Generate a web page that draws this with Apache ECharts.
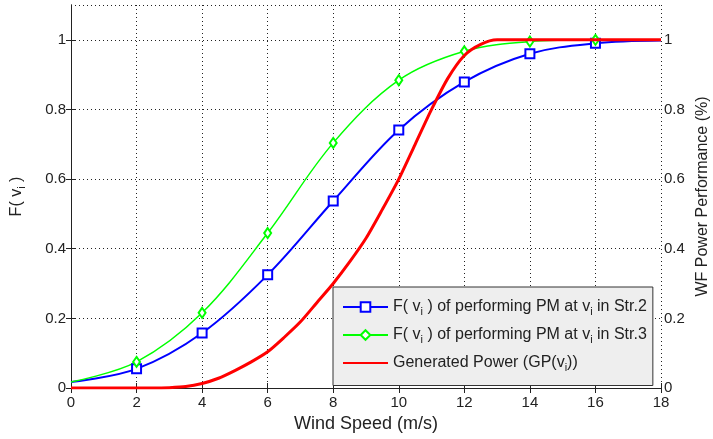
<!DOCTYPE html>
<html>
<head>
<meta charset="utf-8">
<script src="https://cdn.jsdelivr.net/npm/echarts@6/dist/echarts.min.js"></script>
<style>
  html, body { margin: 0; padding: 0; background: #fff; }
  #chart { width: 713px; height: 439px; }
</style>
</head>
<body>
<div id="chart"></div>
<script>
// wind speed (m/s) at which F(v_i) was sampled
const windSpeed = [0, 2, 4, 6, 8, 10, 12, 14, 16, 18];
const fStr2     = [0.017, 0.055, 0.158, 0.325, 0.537, 0.741, 0.879, 0.960, 0.990, 0.998];
const fStr3     = [0.017, 0.075, 0.216, 0.445, 0.704, 0.884, 0.967, 0.995, 1.000, 1.000];

// generated power curve
const gpWind  = [0, 2, 2.5, 3, 3.5, 4, 4.5, 5, 5.5, 6, 6.5, 7, 7.5, 8, 8.5, 9, 9.5, 10,
                 10.5, 11, 11.5, 12, 12.5, 13, 14, 16, 18];
const gpValue = [0, 0, 0, 0.001, 0.004, 0.013, 0.028, 0.05, 0.075, 0.104, 0.145, 0.19, 0.245, 0.30,
                 0.362, 0.43, 0.513, 0.60, 0.70, 0.80, 0.89, 0.955, 0.987, 1, 1, 1, 1];

const markedAt = [2, 4, 6, 8, 10, 12, 14, 16];

const FONT = 'Liberation Sans, Arial, sans-serif';
const chart = echarts.init(document.getElementById('chart'));

function withMarkers(xs, ys) {
    return xs.map((x, i) => markedAt.includes(x)
        ? [x, ys[i]]
        : { value: [x, ys[i]], symbol: 'none' });
}

const legendText = {
    s2: '{a|F( v}{s|i}{a| ) of performing PM at v}{s|i}{a| in Str.2}',
    s3: '{a|F( v}{s|i}{a| ) of performing PM at v}{s|i}{a| in Str.3}',
    gp: '{a|Generated Power (GP(v}{s|i}{a|))}'
};

function richSub(size) {
    return {
        a: { fontSize: size, fontFamily: FONT, color: '#222' },
        s: { fontSize: Math.round(size * 0.7), fontFamily: FONT, color: '#222', padding: [Math.round(size * 0.6), 0, 0, 0] }
    };
}

const dotted = { color: '#222', type: [1, 3], width: 1 };
const axisBlack = { lineStyle: { color: '#222', width: 1 } };
const tickIn = { inside: true, length: 5, lineStyle: { color: '#222' } };

chart.setOption({
    animation: false,
    backgroundColor: '#fff',
    textStyle: { fontFamily: FONT },
    grid: { left: 71, right: 52, top: 5, bottom: 51, outerBoundsMode: 'none' },
    legend: {
        left: 333, top: 287,
        orient: 'vertical',
        backgroundColor: '#eeeeee',
        borderColor: '#333',
        borderWidth: 1,
        padding: [12, 6, 12, 9],
        itemWidth: 45, itemHeight: 12, itemGap: 9.5,
        data: ['s2', 's3', { name: 'gp', itemStyle: { opacity: 0 } }],
        formatter: name => legendText[name],
        textStyle: { rich: richSub(16) }
    },
    xAxis: [{
        type: 'value', min: 0, max: 18, interval: 2,
        name: 'Wind Speed (m/s)', nameLocation: 'middle', nameGap: 22,
        nameTextStyle: { fontSize: 18, color: '#222' },
        axisLine: axisBlack,
        axisTick: tickIn,
        axisLabel: { fontSize: 15, color: '#222', margin: 7 },
        splitLine: { show: true, lineStyle: dotted }
    }, {
        type: 'value', min: 0, max: 18, interval: 2, position: 'top',
        axisLine: axisBlack,
        axisTick: tickIn,
        axisLabel: { show: false },
        splitLine: { show: false }
    }],
    yAxis: [{
        type: 'value', min: 0, max: 1.1, interval: 0.2,
        name: '{a|F( v}{s|i}{a| )}', nameLocation: 'middle', nameGap: 44, nameRotate: 90,
        nameTextStyle: { rich: richSub(16) },
        axisLine: axisBlack,
        axisTick: tickIn,
        axisLabel: { fontSize: 15, color: '#222', margin: 5, showMaxLabel: false },
        splitLine: { show: true, lineStyle: dotted }
    }, {
        type: 'value', min: 0, max: 1.1, interval: 0.2, position: 'right',
        name: 'WF Power Performance (%)', nameLocation: 'middle', nameGap: 34, nameRotate: 90,
        nameMoveOverlap: false,
        nameTextStyle: { fontSize: 16, color: '#222' },
        axisLine: axisBlack,
        axisTick: tickIn,
        axisLabel: { fontSize: 15, color: '#222', margin: 3, showMaxLabel: false },
        splitLine: { show: false }
    }],
    series: [{
        name: 'gp', type: 'line', yAxisIndex: 1,
        data: gpWind.map((x, i) => [x, gpValue[i]]),
        smooth: 0.25, symbol: 'none',
        lineStyle: { color: '#ff0000', width: 3 },
        itemStyle: { color: '#ff0000' },
        z: 3
    }, {
        name: 's2', type: 'line',
        data: withMarkers(windSpeed, fStr2),
        smooth: 0.35, symbol: 'emptyRect', symbolSize: 9,
        lineStyle: { color: '#0000ff', width: 2 },
        itemStyle: { color: '#0000ff', borderWidth: 2 },
        z: 2
    }, {
        name: 's3', type: 'line',
        data: withMarkers(windSpeed, fStr3),
        smooth: 0.35, symbol: 'emptyDiamond', symbolSize: [7, 10],
        lineStyle: { color: '#00ff00', width: 1.5 },
        itemStyle: { color: '#00ff00', borderWidth: 1.5 },
        z: 2
    }]
});

window.addEventListener('resize', () => chart.resize());
</script>
</body>
</html>
